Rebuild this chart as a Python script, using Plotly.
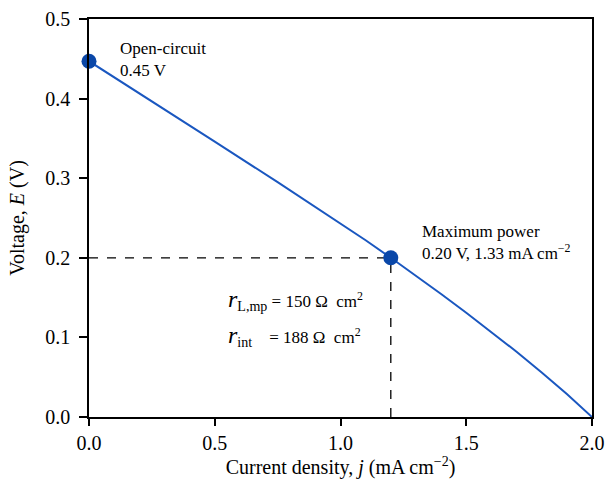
import plotly.graph_objects as go

# Polarization curve data
current_density = [0.0, 0.25, 0.5, 0.75, 1.0, 1.1, 1.2, 1.3, 1.4, 1.5, 1.6, 1.7, 1.8, 1.9, 2.0]
voltage = [0.447, 0.397, 0.346, 0.295, 0.2435, 0.222, 0.200, 0.1775, 0.1545, 0.131,
           0.107, 0.082, 0.056, 0.029, 0.0]

# Highlighted points
oc_j, oc_E = 0.0, 0.447
mp_j, mp_E = 1.2, 0.2

x_ticks = [0.0, 0.5, 1.0, 1.5, 2.0]
y_ticks = [0.0, 0.1, 0.2, 0.3, 0.4, 0.5]

LINE_BLUE = "#1a57c0"
MARK_BLUE = "#0a47a8"
FONT = "Liberation Serif, Times New Roman, serif"

fig = go.Figure()

# dashed guide lines to max power point
fig.add_trace(go.Scatter(x=[0, mp_j], y=[mp_E, mp_E], mode="lines",
                         line=dict(color="black", width=1.3, dash="dash"),
                         showlegend=False, hoverinfo="skip"))
fig.add_trace(go.Scatter(x=[mp_j, mp_j], y=[0, mp_E], mode="lines",
                         line=dict(color="black", width=1.3, dash="dash"),
                         showlegend=False, hoverinfo="skip"))

# curve
fig.add_trace(go.Scatter(x=current_density, y=voltage, mode="lines",
                         line=dict(color=LINE_BLUE, width=2),
                         showlegend=False, cliponaxis=False))

# markers
fig.add_trace(go.Scatter(x=[oc_j, mp_j], y=[oc_E, mp_E], mode="markers",
                         marker=dict(color=MARK_BLUE, size=15),
                         showlegend=False, cliponaxis=False))

ann_font = dict(family=FONT, size=17, color="black")
big_r = '<span style="font-size:24px"><i>r</i></span>'
NB = "\u00a0"
line1 = big_r + '<sub><span style="font-size:14px">L,mp</span></sub>' + NB + "= 150 Ω" + NB + NB + "cm<sup>2</sup>"
line2 = big_r + '<sub><span style="font-size:14px">int</span></sub>' + NB * 4 + "= 188 Ω" + NB + NB + "cm<sup>2</sup>"
annotations = [
    dict(x=0.115, y=0.478, text="Open-circuit<br>0.45 V", xanchor="left", yanchor="top", align="left"),
    dict(x=1.315, y=0.248, text="Maximum power<br>0.20 V, 1.33 mA cm<sup>−2</sup>",
         xanchor="left", yanchor="top", align="left"),
    dict(x=0.545, y=0.147, text=line1, xanchor="left", yanchor="middle", align="left"),
    dict(x=0.545, y=0.102, text=line2, xanchor="left", yanchor="middle", align="left"),
]
for a in annotations:
    a.update(xref="x", yref="y", showarrow=False, font=ann_font)

fig.update_layout(
    width=605, height=483,
    margin=dict(l=89, r=13, t=19, b=66),
    paper_bgcolor="white", plot_bgcolor="white",
    font=dict(family=FONT, size=20, color="black"),
    annotations=annotations,
    xaxis=dict(
        range=[0, 2.0], tickvals=x_ticks, ticktext=[f"{v:.1f}" for v in x_ticks],
        showgrid=False, zeroline=False, showline=True, linecolor="black", linewidth=1.5,
        mirror=True, ticks="outside", ticklen=7, tickwidth=1.5, tickcolor="black",
        automargin=False,
        title=dict(text="Current density, <i>j</i> (mA cm<sup>−2</sup>)", standoff=6,
                   font=dict(family=FONT, size=20)),
        tickfont=dict(family=FONT, size=20),
    ),
    yaxis=dict(
        range=[0, 0.5], tickvals=y_ticks, ticktext=[f"{v:.1f}\u00a0" for v in y_ticks],
        showgrid=False, zeroline=False, showline=True, linecolor="black", linewidth=1.5,
        mirror=True, ticks="outside", ticklen=8, tickwidth=1.5, tickcolor="black",
        automargin=False,
        title=dict(text="Voltage, <i>E</i> (V)", standoff=15,
                   font=dict(family=FONT, size=20)),
        tickfont=dict(family=FONT, size=20),
    ),
)

fig.write_html("out.html")
